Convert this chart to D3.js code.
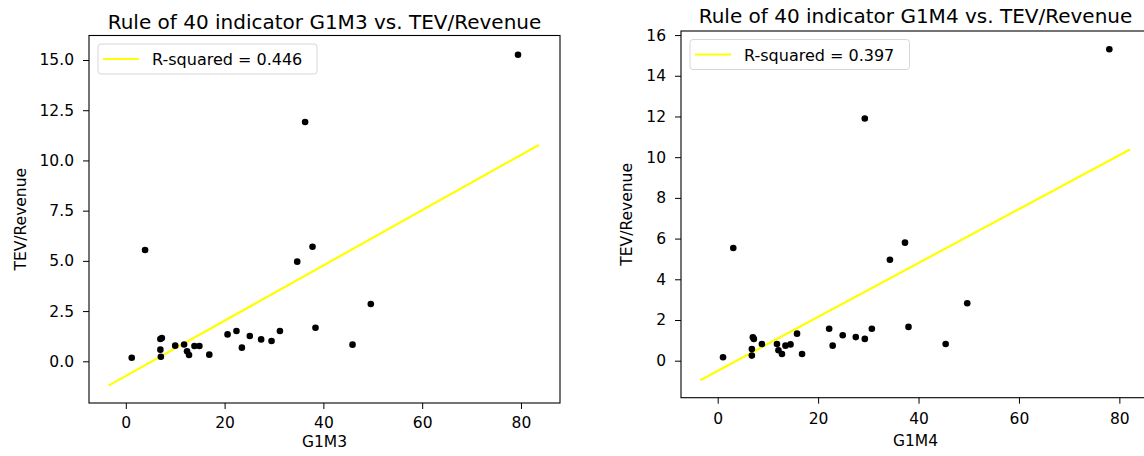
<!DOCTYPE html>
<html>
<head>
<meta charset="utf-8">
<script src="https://cdn.jsdelivr.net/npm/d3@7"></script>
<style>
  html, body { margin: 0; padding: 0; background: #fff; }
  svg { display: block; }
  text { font-family: "DejaVu Sans", sans-serif; fill: #000; }
</style>
</head>
<body>
<svg id="chart" width="1144" height="456"></svg>
<script>
// ---- Data ----
const g1m3 = [1.2, 3.9, 7.0, 7.3, 7.0, 7.1, 10.0, 11.8, 12.4, 12.8, 13.9, 14.9, 16.9, 20.6, 22.4, 23.5, 25.1, 27.4, 29.5, 31.2, 34.7, 37.8, 38.4, 45.9, 49.6, 36.3, 79.4];
const tevRevenue3 = [0.18, 5.54, 1.11, 1.16, 0.58, 0.23, 0.78, 0.84, 0.50, 0.31, 0.76, 0.76, 0.33, 1.34, 1.51, 0.68, 1.26, 1.09, 1.01, 1.51, 4.96, 5.70, 1.67, 0.83, 2.85, 11.91, 15.26];
const g1m4 = [1.06, 3.1, 6.8, 6.8, 7.0, 7.2, 8.8, 11.8, 12.1, 12.8, 13.5, 14.5, 15.8, 16.8, 22.2, 22.9, 24.9, 27.5, 29.3, 30.7, 34.3, 37.3, 38.0, 45.4, 49.7, 29.3, 78.0];
const tevRevenue4 = [0.17, 5.54, 0.57, 0.25, 1.15, 1.07, 0.82, 0.82, 0.51, 0.33, 0.74, 0.80, 1.33, 0.33, 1.57, 0.74, 1.25, 1.16, 1.07, 1.57, 4.96, 5.80, 1.66, 0.82, 2.82, 11.90, 15.30];
// fitted regression line endpoints
const fit3X = [-3.5, 83.6];
const fit3Y = [-1.21, 10.77];
const fit4X = [-3.47, 82.1];
const fit4Y = [-0.96, 10.38];
const rSquared = [0.446, 0.397];
const titles = ["Rule of 40 indicator G1M3 vs. TEV/Revenue", "Rule of 40 indicator G1M4 vs. TEV/Revenue"];
const xLabels = ["G1M3", "G1M4"];
const yLabel = "TEV/Revenue";
const xTicks = [0, 20, 40, 60, 80];
const yTicks3 = [0, 2.5, 5, 7.5, 10, 12.5, 15];
const yTicks4 = [0, 2, 4, 6, 8, 10, 12, 14, 16];

const svg = d3.select("#chart");

function drawChart(cfg) {
  const { left, right, top, bottom } = cfg.box;
  const x = d3.scaleLinear().domain(cfg.xDomain).range([left, right]);
  const y = d3.scaleLinear().domain(cfg.yDomain).range([bottom, top]);
  const g = svg.append("g");

  const clipId = "clip" + cfg.id;
  g.append("clipPath").attr("id", clipId)
    .append("rect").attr("x", left).attr("y", top).attr("width", right - left).attr("height", bottom - top);

  const xAxis = d3.axisBottom(x).tickValues(xTicks).tickSize(6).tickPadding(cfg.xPad).tickSizeOuter(0)
    .tickFormat(d3.format("d"));
  const gx = g.append("g").attr("transform", `translate(0,${bottom})`).call(xAxis);
  const yAxis = d3.axisLeft(y).tickValues(cfg.yTicks).tickSize(6).tickPadding(9).tickSizeOuter(0)
    .tickFormat(cfg.yFormat);
  const gy = g.append("g").attr("transform", `translate(${left},0)`).call(yAxis);
  [gx, gy].forEach(a => {
    a.select(".domain").remove();
    a.selectAll(".tick line").attr("stroke", "#000").attr("stroke-width", 1);
    a.selectAll(".tick text").attr("font-family", "DejaVu Sans").attr("font-size", 15.5).attr("fill", "#262626");
  });

  const plot = g.append("g").attr("clip-path", `url(#${clipId})`);
  const lineGen = d3.line().x(d => x(d[0])).y(d => y(d[1]));
  plot.append("path")
    .datum(d3.zip(cfg.fitX, cfg.fitY))
    .attr("d", lineGen)
    .attr("fill", "none").attr("stroke", "#ffff00").attr("stroke-width", 2.2);
  plot.selectAll("circle").data(d3.zip(cfg.xs, cfg.ys)).join("circle")
    .attr("cx", d => x(d[0])).attr("cy", d => y(d[1])).attr("r", 3.3)
    .attr("fill", "#000");

  g.append("rect").attr("x", left).attr("y", top).attr("width", right - left).attr("height", bottom - top)
    .attr("fill", "none").attr("stroke", "#000").attr("stroke-width", 1.1);

  g.append("text").attr("x", (left + right) / 2).attr("y", cfg.titleY)
    .attr("text-anchor", "middle").attr("font-size", 20).attr("fill", "#262626").text(cfg.title);
  g.append("text").attr("x", (left + right) / 2).attr("y", cfg.xLabelY)
    .attr("text-anchor", "middle").attr("font-size", 15.5).attr("fill", "#262626").text(cfg.xLabel);
  g.append("text")
    .attr("transform", `translate(${cfg.yLabelX},${(top + bottom) / 2}) rotate(-90)`)
    .attr("text-anchor", "middle").attr("font-size", 15.5).attr("fill", "#262626").text(yLabel);

  const lg = g.append("g").attr("transform", `translate(${left + 9},${top + 8.5})`);
  lg.append("rect").attr("x", 0).attr("y", 0).attr("width", cfg.legendW).attr("height", 30).attr("rx", 3)
    .attr("fill", "#fff").attr("fill-opacity", 0.8).attr("stroke", "#d6d6d6").attr("stroke-width", 1);
  lg.append("line").attr("x1", 5).attr("x2", 41).attr("y1", 15).attr("y2", 15)
    .attr("stroke", "#ffff00").attr("stroke-width", 2.2);
  lg.append("text").attr("x", 54).attr("y", 21).attr("font-size", 16).attr("fill", "#262626")
    .text("R-squared = " + cfg.r2.toFixed(3));
}

drawChart({
  id: 1,
  box: { left: 89, right: 560, top: 35.5, bottom: 403 },
  xDomain: [-7.45, 87.9],
  yDomain: [-2.076, 16.22],
  yTicks: yTicks3,
  yFormat: d3.format(".1f"),
  xPad: 8,
  xs: g1m3, ys: tevRevenue3,
  fitX: fit3X, fitY: fit3Y,
  title: titles[0], titleY: 28.5,
  xLabel: xLabels[0], xLabelY: 447,
  yLabelX: 26,
  r2: rSquared[0], legendW: 219
});

drawChart({
  id: 2,
  box: { left: 681, right: 1150, top: 31, bottom: 397.7 },
  xDomain: [-7.31, 86.1],
  yDomain: [-1.818, 16.2],
  yTicks: yTicks4,
  yFormat: d3.format("d"),
  xPad: 9,
  xs: g1m4, ys: tevRevenue4,
  fitX: fit4X, fitY: fit4Y,
  title: titles[1], titleY: 23,
  xLabel: xLabels[1], xLabelY: 446,
  yLabelX: 632,
  r2: rSquared[1], legendW: 219.5
});
</script>
</body>
</html>
